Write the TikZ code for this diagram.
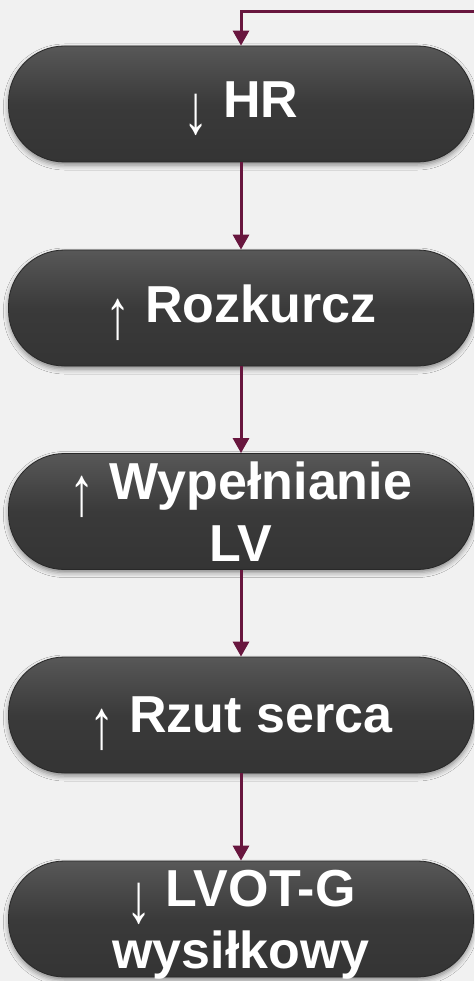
\documentclass[tikz,border=0pt]{standalone}
\usepackage{fontspec}
\setmainfont{Liberation Sans}
\newfontfamily\arrowfont{Liberation Sans}
\usetikzlibrary{arrows.meta,shadows.blur}
\newcommand\myup{\raisebox{-16pt}[0pt][0pt]{\scalebox{0.72}[1]{\arrowfont\mdseries\fontsize{70}{70}\selectfont ↑}}}
\newcommand\mydown{\raisebox{-16pt}[0pt][0pt]{\scalebox{0.72}[1]{\arrowfont\mdseries\fontsize{70}{70}\selectfont ↓}}}
\newcommand\nodepth[1]{\raisebox{0pt}[\height][0pt]{#1}}
\definecolor{bg}{RGB}{241,241,241}
\definecolor{boxfill}{RGB}{58,58,58}
\definecolor{boxedge}{RGB}{40,40,40}
\definecolor{conncol}{RGB}{104,22,62}
\tikzset{
  pill/.style={rectangle, rounded corners=56pt, minimum width=465pt, minimum height=116pt,
    inner sep=0pt, align=center, text=white,
    font=\fontsize{52}{62}\selectfont\bfseries,
    top color=boxfill!85!white, bottom color=boxfill!90!black, middle color=boxfill,
    draw=boxedge, line width=0.8pt,
    blur shadow={shadow xshift=0pt, shadow yshift=-3pt, shadow blur radius=5pt, shadow opacity=45}},
  conn/.style={draw=conncol, line width=3pt, -{Triangle[width=16pt,length=15pt]}}
}
\begin{document}
\begin{tikzpicture}[x=1pt,y=-1pt]
\fill[bg] (0,0) rectangle (474,981);
\useasboundingbox (0,0) rectangle (474,981);
\node[pill, text depth=8pt] (b1) at (241,104) {\mydown{} HR};
\node[pill, text depth=8pt] (b2) at (241,308) {\myup{} Rozkurcz};
\node[pill] (b3) at (241,511.5) {\myup{} Wypełnianie\\LV};
\node[pill] (b4) at (241,715) {\myup{} Rzut serca};
\node[pill] (b5) at (241,919) {\mydown{} LVOT-G\\\nodepth{wysiłkowy}};
\coordinate (start) at (474,12);
\draw[conn] (start) -| (b1.north);
\draw[conn] (b1) -- (b2);
\draw[conn] (b2) -- (b3);
\draw[conn] (b3) -- (b4);
\draw[conn] (b4) -- (b5);
\end{tikzpicture}
\end{document}
